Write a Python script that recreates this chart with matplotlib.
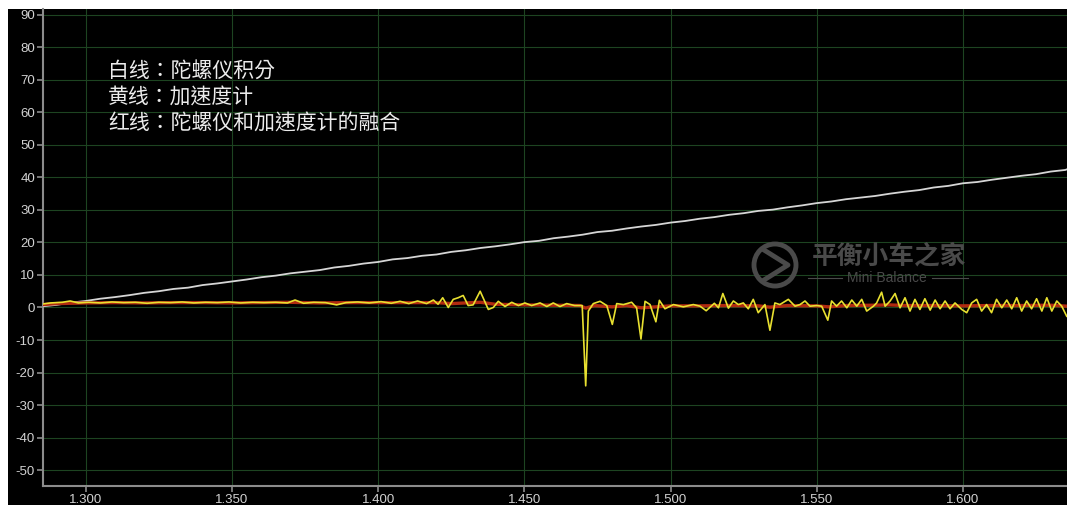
import numpy as np
import matplotlib
matplotlib.use("Agg")
import matplotlib.pyplot as plt
from matplotlib.patches import Rectangle, Circle
from matplotlib.lines import Line2D
from matplotlib.ticker import FormatStrFormatter, MultipleLocator

plt.rcParams['axes.unicode_minus'] = False
plt.rcParams['font.family'] = ['Liberation Sans', 'DejaVu Sans']

# white: integrated gyro angle
white_t = [1.2855, 1.290, 1.295, 1.300, 1.305, 1.310, 1.315, 1.320, 1.325, 1.330,
           1.335, 1.340, 1.345, 1.350, 1.355, 1.360, 1.365, 1.370, 1.375, 1.380,
           1.385, 1.390, 1.395, 1.400, 1.405, 1.410, 1.415, 1.420, 1.425, 1.430,
           1.435, 1.440, 1.445, 1.450, 1.455, 1.460, 1.465, 1.470, 1.475, 1.480,
           1.485, 1.490, 1.495, 1.500, 1.505, 1.510, 1.515, 1.520, 1.525, 1.530,
           1.535, 1.540, 1.545, 1.550, 1.555, 1.560, 1.565, 1.570, 1.575, 1.580,
           1.585, 1.590, 1.595, 1.600, 1.605, 1.610, 1.615, 1.620, 1.625, 1.630,
           1.635, 1.6356]
white_v = [0.4, 0.8, 1.5, 2.0, 2.7, 3.2, 3.8, 4.5, 5.0, 5.7,
           6.1, 6.9, 7.4, 8.0, 8.6, 9.3, 9.8, 10.5, 11.0, 11.5,
           12.3, 12.8, 13.5, 14.0, 14.8, 15.2, 15.9, 16.3, 17.1, 17.6,
           18.3, 18.8, 19.4, 20.1, 20.5, 21.3, 21.8, 22.4, 23.2, 23.6,
           24.3, 24.9, 25.4, 26.1, 26.6, 27.3, 27.8, 28.5, 29.0, 29.7,
           30.1, 30.8, 31.4, 32.1, 32.6, 33.3, 33.8, 34.3, 35.0, 35.6,
           36.1, 36.9, 37.4, 38.2, 38.6, 39.3, 39.9, 40.5, 41.0, 41.8,
           42.3, 42.5]

# yellow: accelerometer angle
yellow_t = [1.2855, 1.2880, 1.2920, 1.2947, 1.2975, 1.3010, 1.3050, 1.3090, 1.3130, 1.3170,
            1.3210, 1.3250, 1.3290, 1.3330, 1.3370, 1.3410, 1.3450, 1.3490, 1.3530, 1.3570,
            1.3610, 1.3650, 1.3690, 1.3716, 1.3745, 1.3780, 1.3820, 1.3858, 1.3890, 1.3930,
            1.3970, 1.4010, 1.4045, 1.4075, 1.4105, 1.4135, 1.4166, 1.4189, 1.4205, 1.4221,
            1.4240, 1.4257, 1.4274, 1.4291, 1.4308, 1.4325, 1.4349, 1.4377, 1.4394, 1.4411,
            1.4434, 1.4457, 1.4480, 1.4502, 1.4525, 1.4554, 1.4577, 1.4599, 1.4622, 1.4645,
            1.4672, 1.4698, 1.4710, 1.4719, 1.4736, 1.4759, 1.4782, 1.4801, 1.4816, 1.4839,
            1.4867, 1.4884, 1.4899, 1.4913, 1.4930, 1.4950, 1.4962, 1.4981, 1.5010, 1.5044,
            1.5078, 1.5101, 1.5122, 1.5150, 1.5164, 1.5179, 1.5198, 1.5215, 1.5232, 1.5249,
            1.5266, 1.5283, 1.5300, 1.5323, 1.5340, 1.5357, 1.5374, 1.5403, 1.5426, 1.5443,
            1.5460, 1.5477, 1.5500, 1.5517, 1.5538, 1.5551, 1.5568, 1.5585, 1.5603, 1.5620,
            1.5637, 1.5654, 1.5671, 1.5694, 1.5705, 1.5722, 1.5734, 1.5751, 1.5768, 1.5785,
            1.5802, 1.5819, 1.5836, 1.5853, 1.5870, 1.5888, 1.5905, 1.5922, 1.5939, 1.5956,
            1.5973, 1.5996, 1.6013, 1.6030, 1.6047, 1.6064, 1.6081, 1.6098, 1.6115, 1.6133,
            1.6150, 1.6167, 1.6184, 1.6201, 1.6218, 1.6235, 1.6252, 1.6270, 1.6287, 1.6304,
            1.6321, 1.6338, 1.6355]
yellow_v = [1.1, 1.4, 1.6, 2.0, 1.4, 1.6, 1.4, 1.7, 1.5, 1.6,
            1.3, 1.6, 1.5, 1.7, 1.4, 1.6, 1.5, 1.7, 1.4, 1.6,
            1.5, 1.6, 1.4, 2.3, 1.3, 1.6, 1.5, 0.8, 1.5, 1.7,
            1.4, 1.8, 1.3, 1.9, 1.2, 2.0, 1.2, 2.3, 1.0, 3.0,
            0.0, 2.5, 3.0, 3.7, 0.6, 0.8, 5.0, -0.6, 0.0, 1.9,
            0.3, 1.6, 0.6, 1.4, 0.6, 1.4, 0.3, 1.4, 0.3, 1.2,
            0.6, 0.6, -24.1, -1.1, 1.2, 1.9, 0.6, -5.2, 1.2, 0.9,
            1.6, -0.1, -9.7, 1.9, 0.9, -4.4, 2.2, -0.4, 0.9, 0.2,
            0.9, 0.4, -1.0, 1.3, -0.1, 4.3, -0.2, 2.0, 0.9, 1.4,
            -0.4, 2.5, -1.6, 0.9, -7.0, 1.4, 0.9, 2.5, 0.4, 0.9,
            2.0, 0.4, 0.6, 0.4, -3.9, 2.0, 0.4, 2.0, -0.1, 2.3,
            0.4, 2.5, -1.1, 0.4, 1.4, 4.7, 0.4, 2.0, 4.3, -0.1,
            3.0, -1.1, 2.5, -0.6, 2.7, -0.8, 2.3, -0.4, 2.0, -0.4,
            1.4, -0.6, -1.6, 1.4, 2.5, -1.1, 0.9, -1.6, 2.5, -0.1,
            2.3, -0.4, 3.0, -1.1, 2.0, -0.4, 2.7, -1.1, 3.0, -1.1,
            2.0, 0.4, -2.7]

# red: complementary fusion of gyro and accelerometer
red_t = [1.2855, 1.290, 1.300, 1.310, 1.320, 1.330, 1.340, 1.350, 1.360, 1.370,
         1.380, 1.390, 1.400, 1.410, 1.420, 1.425, 1.430, 1.435, 1.440, 1.450,
         1.460, 1.469, 1.471, 1.474, 1.480, 1.485, 1.490, 1.495, 1.500, 1.510,
         1.520, 1.530, 1.534, 1.540, 1.550, 1.554, 1.560, 1.570, 1.575, 1.580,
         1.590, 1.600, 1.610, 1.620, 1.630, 1.6356]
red_v = [0.9, 1.2, 1.4, 1.5, 1.4, 1.5, 1.5, 1.4, 1.5, 1.6,
         1.4, 1.5, 1.5, 1.5, 1.5, 1.2, 1.4, 1.6, 1.0, 0.8,
         0.7, 0.6, -0.2, 0.6, 0.2, 0.6, -0.1, 0.2, 0.5, 0.5,
         0.6, 0.5, 0.1, 0.6, 0.5, 0.2, 0.6, 0.7, 0.8, 0.6,
         0.6, 0.5, 0.6, 0.6, 0.7, 0.4]

legend_lines = ["白线：陀螺仪积分", "黄线：加速度计", "红线：陀螺仪和加速度计的融合"]

W, H = 1067, 505
fig = plt.figure(figsize=(W / 100, H / 100), dpi=100, facecolor='white')
# black canvas behind the plot, leaving thin white strips top and left
fig.add_artist(Rectangle((8 / W, 0), 1, (H - 9) / H, transform=fig.transFigure,
                         facecolor='black', edgecolor='none', zorder=-5))

ax = fig.add_axes([43.3 / W, 19 / H, 1 - 43.3 / W, (486 - 9) / H])
ax.set_facecolor('black')

ax.plot(white_t, white_v, color='#d6d6d6', lw=1.3, zorder=3)
ax.plot(red_t, red_v, color='#b02a10', lw=2.4, zorder=4)
ax.plot(yellow_t, yellow_v, color='#e8e030', lw=1.2, zorder=5)

ax.set_xlim(1.2855, 1.6356)
ax.set_ylim(-54.9, 91.8)
ax.xaxis.set_major_locator(MultipleLocator(0.05))
ax.xaxis.set_major_formatter(FormatStrFormatter('%.3f'))
ax.yaxis.set_major_locator(MultipleLocator(10))
ax.grid(True, color='#1d4421', lw=0.8)
ax.set_axisbelow(True)

for side in ['top', 'right']:
    ax.spines[side].set_visible(False)
for side in ['left', 'bottom']:
    ax.spines[side].set_color('#8c8c8c')
    ax.spines[side].set_linewidth(1.5)
ax.tick_params(colors='#8c8c8c', labelcolor='#d2d2d2', labelsize=9.5,
               length=4, width=1.2, pad=2)

# TC face keeps the full-width colon centred in its cell
cjk = ['Noto Sans CJK TC', 'DejaVu Sans']
for i, line in enumerate(legend_lines):
    fig.text(108 / W, 1 - (71 + 26.5 * i) / H, line, color='#ececec', fontsize=15,
             va='center', ha='left', family=cjk)

# watermark
wm = '#4a4a4a'
fig.text(889 / W, 1 - 256 / H, '平衡小车之家', color=wm, fontsize=18.5, weight='bold',
         ha='center', va='center', family=['Noto Sans CJK SC', 'DejaVu Sans'])
fig.text(887 / W, 1 - 278 / H, 'Mini Balance', color=wm, fontsize=10,
         ha='center', va='center')
for x0, x1 in [(808, 842), (932, 968)]:
    fig.add_artist(Line2D([x0 / W, x1 / W], [1 - 278 / H] * 2, color=wm, lw=0.8,
                          transform=fig.transFigure))
fig.add_artist(Circle((7.75, (H - 265) / 100), 0.21, transform=fig.dpi_scale_trans,
                      facecolor='none', edgecolor=wm, lw=3.5))
fig.add_artist(Line2D([7.64, 7.88, 7.64], [(H - 250) / 100, (H - 265) / 100, (H - 280) / 100],
                      transform=fig.dpi_scale_trans, color=wm, lw=3.5))

fig.savefig('out.png', dpi=100, facecolor=fig.get_facecolor())
